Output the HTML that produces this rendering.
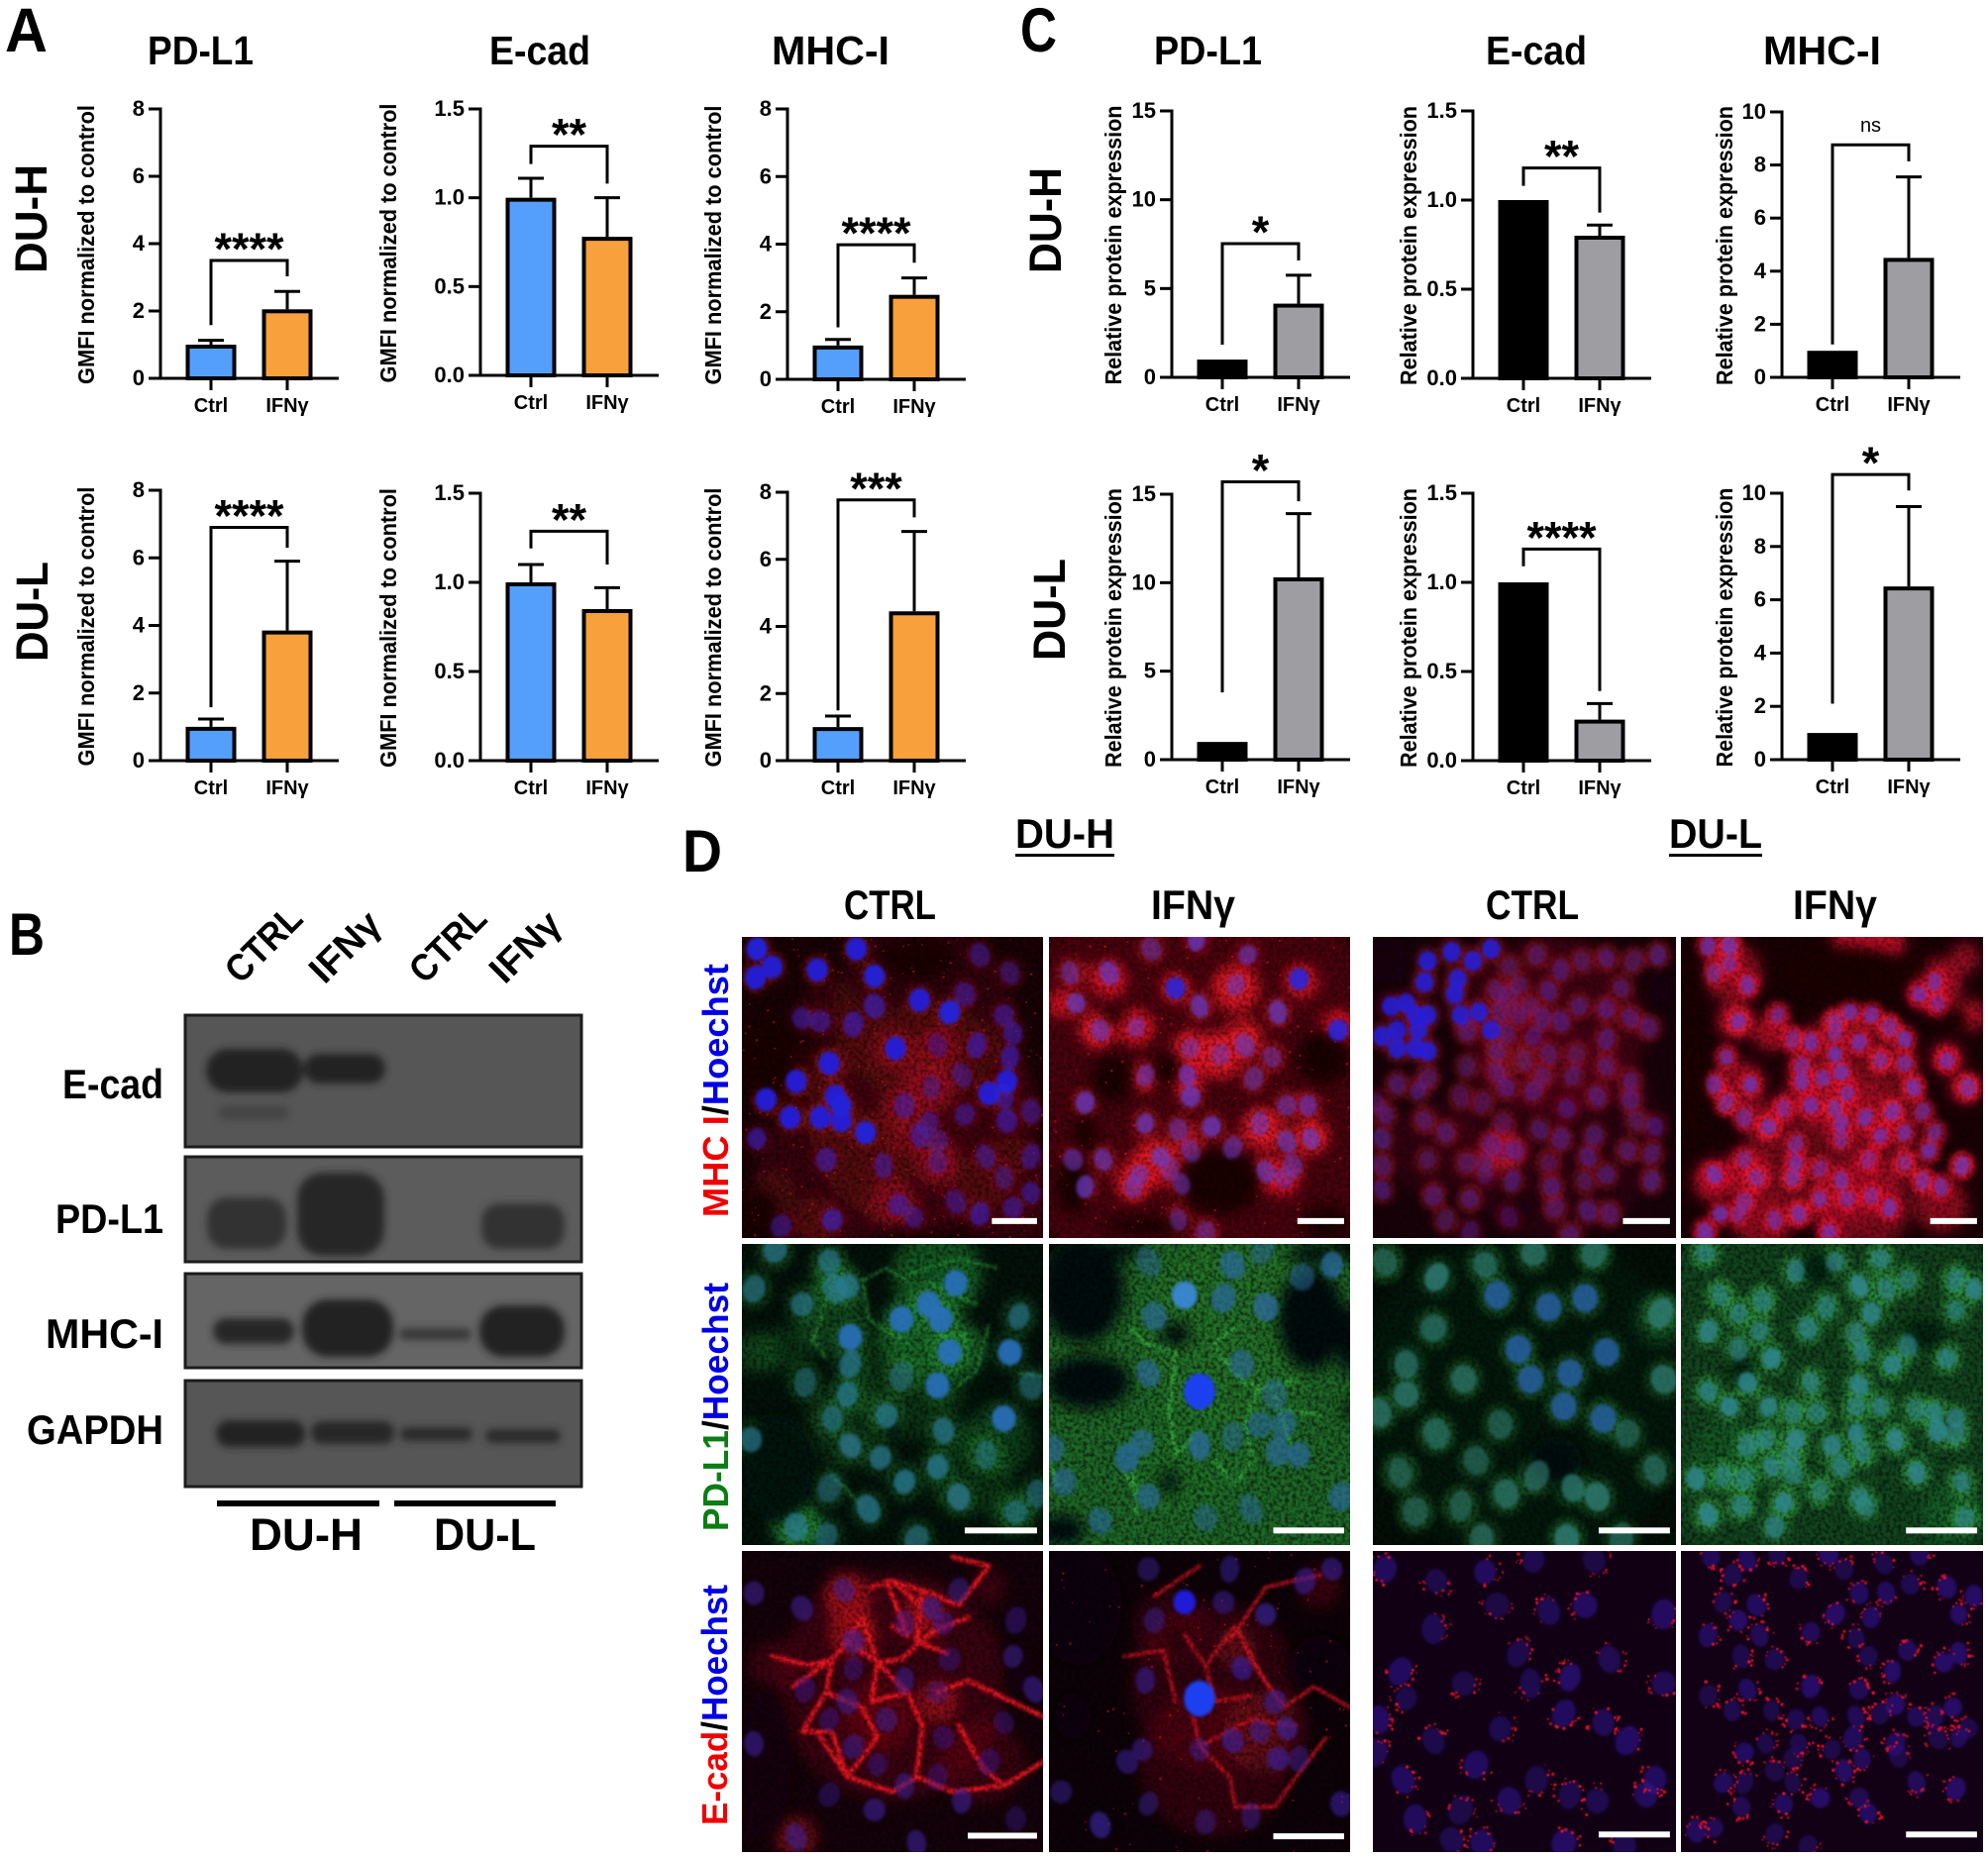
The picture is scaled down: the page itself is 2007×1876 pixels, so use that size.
<!DOCTYPE html>
<html lang="en">
<head>
<meta charset="utf-8">
<title>DU-H and DU-L: PD-L1, E-cad and MHC-I expression</title>
<style>
html,body{margin:0;padding:0;background:#fff;}
svg{display:block;}
text{font-family:"Liberation Sans",Arial,sans-serif;fill:#000;}
.b{font-weight:bold;}
</style>
</head>
<body>
<svg id="figure" xmlns="http://www.w3.org/2000/svg" width="2007" height="1876" viewBox="0 0 2007 1876">
<defs>
<filter id="blur07" x="-5%" y="-5%" width="110%" height="110%"><feGaussianBlur stdDeviation="0.6"/></filter>
<filter id="blur1" x="-20%" y="-20%" width="140%" height="140%"><feGaussianBlur stdDeviation="1.2"/></filter>
<filter id="blur2" x="-20%" y="-20%" width="140%" height="140%"><feGaussianBlur stdDeviation="1.7"/></filter>
<filter id="blur3" x="-30%" y="-30%" width="160%" height="160%"><feGaussianBlur stdDeviation="3.2"/></filter>
<filter id="blur6" x="-30%" y="-30%" width="160%" height="160%"><feGaussianBlur stdDeviation="7"/></filter>
<filter id="bandBlur" x="-30%" y="-60%" width="160%" height="220%"><feGaussianBlur stdDeviation="4"/></filter>
<filter id="grain" x="0" y="0" width="100%" height="100%"><feTurbulence type="fractalNoise" baseFrequency="0.26" numOctaves="2" seed="3"/><feColorMatrix type="matrix" values="0 0 0 0 0  0 0 0 0 0  0 0 0 0 0  2.6 0 0 0 -0.95"/></filter>
</defs>
<rect x="0" y="0" width="2007" height="1876" fill="#fff"/>

<text class="b" x="5" y="52" font-size="63" textLength="43" lengthAdjust="spacingAndGlyphs">A</text>
<text class="b" x="9" y="964" font-size="60" textLength="36" lengthAdjust="spacingAndGlyphs">B</text>
<text class="b" x="1030" y="52" font-size="63" textLength="37" lengthAdjust="spacingAndGlyphs">C</text>
<text class="b" x="689" y="880" font-size="60" textLength="40" lengthAdjust="spacingAndGlyphs">D</text>

<text class="b" transform="translate(47,276) rotate(-90)" font-size="45" textLength="110" lengthAdjust="spacingAndGlyphs">DU-H</text>
<text class="b" transform="translate(48,668) rotate(-90)" font-size="45" textLength="101" lengthAdjust="spacingAndGlyphs">DU-L</text>
<text class="b" transform="translate(1071,276) rotate(-90)" font-size="45" textLength="107" lengthAdjust="spacingAndGlyphs">DU-H</text>
<text class="b" transform="translate(1075,667) rotate(-90)" font-size="45" textLength="103" lengthAdjust="spacingAndGlyphs">DU-L</text>

<g id="charts"></g>

<g id="western-blot">
  <text class="b" font-size="38" text-anchor="middle" transform="translate(266,953) rotate(-45) translate(0,13)" textLength="92" lengthAdjust="spacingAndGlyphs">CTRL</text>
  <text class="b" font-size="38" text-anchor="middle" transform="translate(348,956) rotate(-45) translate(0,13)" textLength="84" lengthAdjust="spacingAndGlyphs">IFNγ</text>
  <text class="b" font-size="38" text-anchor="middle" transform="translate(452,953) rotate(-45) translate(0,13)" textLength="92" lengthAdjust="spacingAndGlyphs">CTRL</text>
  <text class="b" font-size="38" text-anchor="middle" transform="translate(530,956) rotate(-45) translate(0,13)" textLength="84" lengthAdjust="spacingAndGlyphs">IFNγ</text>

  <rect x="187" y="1025" width="400" height="133" fill="#565656" stroke="#1c1c1c" stroke-width="3"/>
  <rect x="187" y="1168" width="400" height="106" fill="#5c5c5c" stroke="#1c1c1c" stroke-width="3"/>
  <rect x="187" y="1286" width="400" height="95" fill="#656565" stroke="#1c1c1c" stroke-width="3"/>
  <rect x="187" y="1394" width="400" height="107" fill="#565656" stroke="#1c1c1c" stroke-width="3"/>
  <g filter="url(#bandBlur)" fill="#202020">
    <rect x="208" y="1059" width="98" height="44" rx="22"/>
    <rect x="307" y="1064" width="82" height="30" rx="15"/>
    <rect x="220" y="1116" width="72" height="15" rx="7" fill="#444"/>
    <rect x="209" y="1209" width="80" height="52" rx="20" fill="#333"/>
    <rect x="300" y="1184" width="88" height="84" rx="26" fill="#272727"/>
    <rect x="486" y="1215" width="84" height="46" rx="18" fill="#333"/>
    <rect x="215" y="1331" width="82" height="26" rx="13" fill="#282828"/>
    <rect x="305" y="1312" width="92" height="58" rx="26"/>
    <rect x="403" y="1341" width="73" height="12" rx="6" fill="#383838"/>
    <rect x="484" y="1318" width="86" height="52" rx="24"/>
    <rect x="218" y="1434" width="90" height="27" rx="13"/>
    <rect x="314" y="1435" width="84" height="23" rx="11" fill="#282828"/>
    <rect x="404" y="1441" width="73" height="14" rx="7" fill="#2c2c2c"/>
    <rect x="490" y="1443" width="76" height="14" rx="7" fill="#2c2c2c"/>
  </g>
  <text class="b" x="63" y="1109" font-size="42" textLength="102" lengthAdjust="spacingAndGlyphs">E-cad</text>
  <text class="b" x="56" y="1245" font-size="42" textLength="109" lengthAdjust="spacingAndGlyphs">PD-L1</text>
  <text class="b" x="46" y="1361" font-size="42" textLength="119" lengthAdjust="spacingAndGlyphs">MHC-I</text>
  <text class="b" x="27" y="1458" font-size="42" textLength="138" lengthAdjust="spacingAndGlyphs">GAPDH</text>
  <rect x="219" y="1515" width="164" height="6" fill="#000"/>
  <rect x="398" y="1515" width="163" height="6" fill="#000"/>
  <text class="b" x="252" y="1565" font-size="45" textLength="114" lengthAdjust="spacingAndGlyphs">DU-H</text>
  <text class="b" x="438" y="1565" font-size="45" textLength="103" lengthAdjust="spacingAndGlyphs">DU-L</text>
</g>

<g id="micrograph-labels">
  <text class="b" x="1025" y="856" font-size="42" textLength="100" lengthAdjust="spacingAndGlyphs">DU-H</text>
  <rect x="1025" y="862" width="100" height="3" fill="#000"/>
  <text class="b" x="1685" y="856" font-size="42" textLength="94" lengthAdjust="spacingAndGlyphs">DU-L</text>
  <rect x="1685" y="862" width="94" height="3" fill="#000"/>
  <text class="b" x="852" y="928" font-size="42" textLength="93" lengthAdjust="spacingAndGlyphs">CTRL</text>
  <text class="b" x="1162" y="928" font-size="42" textLength="85" lengthAdjust="spacingAndGlyphs">IFNγ</text>
  <text class="b" x="1500" y="928" font-size="42" textLength="94" lengthAdjust="spacingAndGlyphs">CTRL</text>
  <text class="b" x="1810" y="928" font-size="42" textLength="85" lengthAdjust="spacingAndGlyphs">IFNγ</text>
  <text class="b" transform="translate(735,1229) rotate(-90)" font-size="36" textLength="256" lengthAdjust="spacingAndGlyphs"><tspan style="fill:#f00000">MHC I</tspan><tspan style="fill:#000">/</tspan><tspan style="fill:#0000e6">Hoechst</tspan></text>
  <text class="b" transform="translate(735,1546) rotate(-90)" font-size="36" textLength="251" lengthAdjust="spacingAndGlyphs"><tspan style="fill:#0a7d14">PD-L1</tspan><tspan style="fill:#000">/</tspan><tspan style="fill:#0000e6">Hoechst</tspan></text>
  <text class="b" transform="translate(734,1843) rotate(-90)" font-size="36" textLength="243" lengthAdjust="spacingAndGlyphs"><tspan style="fill:#f00000">E-cad</tspan><tspan style="fill:#000">/</tspan><tspan style="fill:#0000e6">Hoechst</tspan></text>
</g>

<g id="micrographs"></g>
</svg>

<script>
/* ---------- chart data ---------- */
const categories = ['Ctrl', 'IFNγ'];
const chartTitles = ['PD-L1', 'E-cad', 'MHC-I', 'PD-L1', 'E-cad', 'MHC-I'];
const axisTitles = ['GMFI normalized to control', 'Relative protein expression'];
const tickLabelsA = [
  ['0', '2', '4', '6', '8'],
  ['0.0', '0.5', '1.0', '1.5'],
  ['0', '2', '4', '6', '8'],
  ['0', '2', '4', '6', '8'],
  ['0.0', '0.5', '1.0', '1.5'],
  ['0', '2', '4', '6', '8']
];
const tickLabelsC = [
  ['0', '5', '10', '15'],
  ['0.0', '0.5', '1.0', '1.5'],
  ['0', '2', '4', '6', '8', '10'],
  ['0', '5', '10', '15'],
  ['0.0', '0.5', '1.0', '1.5'],
  ['0', '2', '4', '6', '8', '10']
];
/* order: DU-H PD-L1, E-cad, MHC-I, DU-L PD-L1, E-cad, MHC-I */
const ctrlMeansA = [1, 1, 1, 1, 1, 1];
const ifnMeansA = [2.05, 0.78, 2.5, 3.85, 0.85, 4.45];
const ctrlErrTopsA = [1.13, 1.11, 1.18, 1.23, 1.1, 1.33];
const ifnErrTopsA = [2.58, 1.0, 3.0, 5.9, 0.97, 6.83];
const bracketTopsA = [3.5, 1.29, 3.98, 6.9, 1.287, 7.77];
const bracketLeftEndsA = [1.58, 1.19, 1.54, 1.58, 1.19, 1.5];
const bracketRightEndsA = [3.03, 1.08, 3.45, 6.3, 1.1, 7.25];
const significanceA = ['****', '**', '****', '****', '**', '***'];

const ctrlMeansC = [1, 1, 1, 1, 1, 1];
const ifnMeansC = [4.15, 0.8, 4.5, 10.3, 0.23, 6.5];
const ifnErrTopsC = [5.75, 0.86, 7.55, 13.9, 0.32, 9.5];
const bracketTopsC = [7.53, 1.18, 8.76, 15.7, 1.187, 10.7];
const bracketLeftEndsC = [1.84, 1.08, 1.24, 3.8, 1.09, 2.1];
const bracketRightEndsC = [6.58, 0.93, 8.14, 14.6, 0.39, 10.1];
const significanceC = ['*', '**', 'ns', '*', '****', '*'];

/* ---------- chart frames (plot rectangle of each chart) ---------- */
function frameOf(axisX, top, bottom, titleX) {
  return { axisX: axisX, top: top, bottom: bottom, titleX: titleX };
}
const framesA = [
  frameOf(162, 110, 382, 95), frameOf(485, 110, 379, 400), frameOf(795, 110, 383, 728),
  frameOf(162, 495, 768, 95), frameOf(485, 498, 768, 400), frameOf(795, 497, 768, 728)
];
const framesC = [
  frameOf(1183, 112, 381, 1132), frameOf(1487, 112, 382, 1430), frameOf(1799, 113, 381, 1749),
  frameOf(1183, 499, 767, 1132), frameOf(1487, 498, 768, 1430), frameOf(1799, 498, 767, 1749)
];
const titleSpansA = [[149, 107], [494, 102], [779, 119]];
const titleSpansC = [[1165, 109], [1500, 102], [1780, 119]];

const SVGNS = 'http://www.w3.org/2000/svg';
function svgEl(tag, attrs, parent) {
  const node = document.createElementNS(SVGNS, tag);
  for (const k in attrs) node.setAttribute(k, attrs[k]);
  if (parent) parent.appendChild(node);
  return node;
}
function lineIn(parent, x1, y1, x2, y2) {
  return svgEl('line', { x1: x1, y1: y1, x2: x2, y2: y2, stroke: '#000', 'stroke-width': 3 }, parent);
}

function drawChart(root, spec) {
  const f = spec.frame;
  const ticks = spec.ticks;
  const maxValue = parseFloat(ticks[ticks.length - 1]);
  const yScale = function (v) { return f.bottom - (v / maxValue) * (f.bottom - f.top); };
  const xScale = function (i) { return f.axisX + 51 + i * 77; };

  const g = svgEl('g', {}, root);
  
  

  const yAxis = lineIn(g, f.axisX, f.top - 1.5, f.axisX, f.bottom + 1.5);
  
  

  ticks.forEach(function (label) {
    const v = parseFloat(label);
    const tick = lineIn(g, f.axisX - 12, yScale(v), f.axisX, yScale(v));
    
    
    const tickText = svgEl('text', { x: f.axisX - 16, y: yScale(v) + 7, 'font-size': 22, 'font-weight': 'bold', 'text-anchor': 'end' }, g);
    tickText.textContent = label;
    
    
  });

  const yTitle = svgEl('text', {
    transform: 'translate(' + f.titleX + ',' + ((f.top + f.bottom) / 2 + 1) + ') rotate(-90)',
    'font-size': 23, 'font-weight': 'bold', 'text-anchor': 'middle',
    textLength: 282, lengthAdjust: 'spacingAndGlyphs'
  }, g);
  yTitle.textContent = spec.axisTitle;
  
  

  /* bars */
  const means = [spec.ctrlMean, spec.ifnMean];
  means.forEach(function (v, i) {
    const cx = xScale(i);
    const errTop = i === 0 ? spec.ctrlErr : spec.ifnErr;
    if (errTop !== null) {
      const stem = lineIn(g, cx, yScale(errTop), cx, yScale(v));
      
      
      const cap = lineIn(g, cx - 13, yScale(errTop), cx + 13, yScale(errTop));
      
      
    }
    const fill = i === 0 ? spec.ctrlColor : spec.ifnColor;
    const bar = svgEl('rect', {
      x: cx - 23.5, y: yScale(v) + 2, width: 47,
      height: Math.max(0, f.bottom - yScale(v) - 2),
      fill: fill, stroke: '#000', 'stroke-width': 4
    }, g);
    
    
  });

  const xAxis = lineIn(g, f.axisX - 1.5, f.bottom, f.axisX + 180, f.bottom);
  
  

  categories.forEach(function (cat, i) {
    const tick = lineIn(g, xScale(i), f.bottom, xScale(i), f.bottom + 12);
    
    
    const lab = svgEl('text', { x: xScale(i), y: f.bottom + 34, 'font-size': 20, 'font-weight': 'bold', 'text-anchor': 'middle' }, g);
    lab.textContent = cat;
    
    
  });

  /* significance bracket */
  const path = 'M' + xScale(0) + ' ' + yScale(spec.leftEnd) +
    'L' + xScale(0) + ' ' + yScale(spec.top) +
    'L' + xScale(1) + ' ' + yScale(spec.top) +
    'L' + xScale(1) + ' ' + yScale(spec.rightEnd);
  const bracket = svgEl('path', { d: path, fill: 'none', stroke: '#000', 'stroke-width': 3 }, g);
  
  

  const isNs = spec.sig === 'ns';
  const sigText = svgEl('text', {
    x: (xScale(0) + xScale(1)) / 2,
    y: yScale(spec.top) + (isNs ? -13 : 4),
    'font-size': isNs ? 20 : 45,
    'font-weight': isNs ? 'normal' : 'bold',
    'text-anchor': 'middle'
  }, g);
  sigText.textContent = spec.sig;
  
  
}

const chartsRoot = document.getElementById('charts');
[0, 1, 2].forEach(function (i) {
  const ta = svgEl('text', { x: titleSpansA[i][0], y: 65, 'font-size': 41, 'font-weight': 'bold', textLength: titleSpansA[i][1], lengthAdjust: 'spacingAndGlyphs' }, chartsRoot);
  ta.textContent = chartTitles[i];
  
  
  const tc = svgEl('text', { x: titleSpansC[i][0], y: 65, 'font-size': 41, 'font-weight': 'bold', textLength: titleSpansC[i][1], lengthAdjust: 'spacingAndGlyphs' }, chartsRoot);
  tc.textContent = chartTitles[i];
  
  
});
framesA.forEach(function (frame, i) {
  drawChart(chartsRoot, {
    id: 'a-' + (i < 3 ? 'du-h-' : 'du-l-') + chartTitles[i].toLowerCase(),
    frame: frame, ticks: tickLabelsA[i], axisTitle: axisTitles[0],
    ctrlMean: ctrlMeansA[i], ifnMean: ifnMeansA[i],
    ctrlErr: ctrlErrTopsA[i], ifnErr: ifnErrTopsA[i],
    top: bracketTopsA[i], leftEnd: bracketLeftEndsA[i], rightEnd: bracketRightEndsA[i],
    sig: significanceA[i], ctrlColor: '#559ffc', ifnColor: '#f8a03c'
  });
});
framesC.forEach(function (frame, i) {
  drawChart(chartsRoot, {
    id: 'c-' + (i < 3 ? 'du-h-' : 'du-l-') + chartTitles[i].toLowerCase(),
    frame: frame, ticks: tickLabelsC[i], axisTitle: axisTitles[1],
    ctrlMean: ctrlMeansC[i], ifnMean: ifnMeansC[i],
    ctrlErr: null, ifnErr: ifnErrTopsC[i],
    top: bracketTopsC[i], leftEnd: bracketLeftEndsC[i], rightEnd: bracketRightEndsC[i],
    sig: significanceC[i], ctrlColor: '#000', ifnColor: '#9e9ea2'
  });
});

/* ---------- micrographs (illustrative image content, not chart data) ---------- */
const columnsX = [[749, 304], [1059, 304], [1386, 306], [1697, 305]];
const rowsY = [[946, 304], [1256, 304], [1566, 304]];
const micrographs = [
 { id: 'mhc-i-du-h-ctrl', c: 0, r: 0, base: '#1a0206', blobColor: '#a8141f', nucColor: '#3a20b8', nucR: 3.5, bar: [83, 98, 94.2],
   halo: [5, 0.22], haloColor: '#b8141f', grain: 0.45,
   blobs: '60,25,30,.16 60,60,38,.26 30,80,25,.2 20,50,14,.14 90,85,18,.2 50,38,8,.5 65,37,8,.55 62,50,9,.7 52,57,7,.6 55,66,7,.55 65,75,8,.7 50,88,8,.6 30,42,6,.35 18,48,5,.3 10,85,8,.2 25,94,8,.3 30,24,10,.2',
   holes: '9,40,9,14 58,7,13,7 6,92,6,8 3,3,4,4',
   nuclei: '5,4 10,10 4.5,13.5 25,11 38,4 44,13 79,6 89,12 59,21 74,19 44,23 69,25 87,26 20,27 26,28 37,29 90,32 51,37 65,36 78,36 89,40 29,42 18,48 73,46 88,48 82,52 31,53 8,54 33,56 63,50 54,56 87,53 16,60 26,60 33,61 74,59 62,62 88,61 96,58 41,65 5,67 59,66 65,68 28,74 47,76 65,75 81,73 96,73 87,80 96,85 52,89 71,88 90,90 57,93 30,94 13,96 79,92',
   brightNuclei: '5,4 10,10 4.5,13.5 25,11 38,4 44,13 59,21 51,37 29,42 18,48 31,53 8,54 33,56 16,60 26,60 33,61 82,52 88,48 69,25 41,65', brightColor: '#2420dc',
   dim: 0.62, dust: 260, dustColor: '#c8202a' },
 { id: 'mhc-i-du-h-ifn', c: 1, r: 0, base: '#1d0206', blobColor: '#e81426', nucColor: '#6a3ac4', nucR: 3.3, bar: [82.5, 98, 94.2],
   halo: [5.2, 0.35], haloColor: '#e01526', grain: 0.4,
   blobs: '50,50,70,.22 20,15,6,.8 62,17,8,.9 4,22,5,.8 16,31,6,.95 29,30,6,.9 57,39,8,.95 65,33,6,.9 47,37,6,.9 46,47,5,.95 31,47,4,.9 71,64,7,.95 87,66,6,.9 35,75,8,.9 28,81,6,.9 72,79,6,.8 78,81,5,.85 96,30,6,.85 84,15,6,.7 42,17,5,.55 47,68,6,.45 12,12,4,.45',
   holes: '21,47,7,8 39,44,5,5 57,81,14,11 12,65,4,6 8,82,6,10 91,40,9,9 21,26,3,3 33,96,15,3 92,95,8,6',
   nuclei: '20,12 62,16 34,4 49,1 66,6 7,12 50,23 9,22 76,25 17,31 29,30 47,37 57,39 65,36 74,40 32,46 46,46 68,47 12,55 47,53 79,56 86,56 32,62 43,64 54,63 70,62 79,68 87,67 47,71 37,73 61,70 8,74 18,74 40,77 30,79 72,78 78,80 81,76 12,83 28,83 44,82 43,94 52,98',
   brightNuclei: '42,17 83,14 96,31', brightColor: '#2e24d8',
   dim: 0.7, dust: 160, dustColor: '#e0202c' },
 { id: 'mhc-i-du-l-ctrl', c: 2, r: 0, base: '#18020a', blobColor: '#a81028', nucColor: '#4a28b8', nucR: 3, bar: [82.5, 98, 94.2],
   halo: [4.6, 0.38], haloColor: '#c0142c', grain: 0.25,
   blobs: '60,30,30,.24 60,65,35,.12 43,71,7,1 20,70,15,.16 45,38,8,.3',
   holes: '5,8,7,7 95,18,4,6 50,90,3,3',
   nuclei: '45,10 54,6 62,11 69,8 77,7 86,8 94,6 48,16 58,18 41,18 82,17 68,23 77,24 45,20 52,23 42,25 48,26 56,27 62,28 85,27 31,31 44,32 53,33 77,34 91,30 41,38 58,39 67,39 31,43 50,41 77,43 41,45 56,46 66,46 85,48 8,49 18,47 15,51 44,50 29,53 36,55 53,51 74,53 85,54 1,55 64,57 4,59 17,61 43,62 87,61 24,65 55,64 73,66 93,63 3,67 62,67 84,71 92,72 39,69 43,71 47,71 37,75 71,73 18,74 31,75 3,76 58,75 77,79 37,79 46,81 70,81 59,83 92,81 3,84 20,86 32,87 60,90 45,93 24,94 71,91 78,92 32,98 65,99',
   dim: 0.42, brightOp: 0.82,
   brightNuclei: '18,8 26,5 33,8 39,4 28,14 17,15 27,19 6,23 11,22 14,26 18,26 29,26 35,25 8,31 15,31 3,33 8,37 14,37 18,38 39,31' },
 { id: 'mhc-i-du-l-ifn', c: 3, r: 0, base: '#1a0005', blobColor: '#e81230', nucColor: '#6a34b8', nucR: 2.6, bar: [82.5, 98, 94.2],
   halo: [4.3, 0.8], haloColor: '#f01432', grain: 0.35,
   blobs: '17,12,10,.55 58,2,8,.85 69,3,6,.8 84,16,9,.7 94,7,5,.6 96,26,5,.8 88,40,5,.85 94,50,5,.8 57,46,22,.42 51,70,26,.38 20,49,8,.6 18,28,6,.8 30,32,6,.7 11,81,7,.75 22,78,8,.7 27,62,7,.55 60,89,16,.45 86,89,9,.55 27,94,10,.55',
   holes: '54,12,22,9 4,49,5,20 4,15,3,10 78,8,4,6 91,28,4,4',
   nuclei: '11,12 22,16 9,3 16,3 16,9 84,15 79,19 85,22 19,28 32,26 37,34 51,28 56,25 63,26 69,30 74,34 51,32 59,35 15,40 43,35 40,43 47,47 53,45 51,39 66,41 74,42 88,41 11,49 23,49 40,48 55,52 43,56 77,50 95,50 15,55 34,57 51,57 61,60 70,58 80,58 21,60 29,63 53,62 38,69 66,66 74,65 53,67 84,65 82,71 62,74 74,75 21,74 38,75 46,77 93,76 11,79 37,80 53,81 25,80 80,81 69,90 63,86 55,87 46,87 86,83 21,88 31,94 39,92 13,92 19,92 8,98 49,98',
   dim: 0.72 },

 { id: 'pd-l1-du-h-ctrl', c: 0, r: 1, base: '#03120a', blobColor: '#259a38', nucColor: '#2a7a92', nucR: 4, bar: [74, 98, 95],
   halo: [6.5, 0.24], haloColor: '#2a9a3a', grain: 0.5,
   blobs: '65,10,15,.5 60,30,14,.5 72,35,9,.6 30,25,12,.35 15,35,8,.22 85,65,12,.28 55,45,20,.24 18,93,8,.85 90,89,7,.4 75,75,15,.24 35,60,15,.18 5,36,7,.35 30,12,7,.45',
   holes: '12,75,12,18 50,62,3,4',
   nuclei: '11,2 29,6 35,14 31,15 4,15 20,20 92,24 36,40 21,46 53,44 96,47 35,50 30,58 48,57 67,62 3,65 36,67 81,70 46,71 65,74 54,79 29,81 72,84 42,88 91,89 98,83 18,94 58,98 28,97',
   brightNuclei: '71,13 62,20 66,25 53,25 36,31 69,36 89,36 65,47 87,58', brightColor: '#2a70bc',
   dim: 0.72, lineColor: '#35b845', lineWidth: 2.5, lineOp: 0.6,
   lines: ['40,12 42,25 55,33', '55,10 72,5 85,8', '60,12 78,20', '82,27 78,42 72,47', '23,32 27,24', '30,77 39,86', '65,30 75,30 73,38', '92,43 100,44', '40,12 48,8 55,12', '28,18 24,32 28,38'] },
 { id: 'pd-l1-du-h-ifn', c: 1, r: 1, base: '#020e08', blobColor: '#2a8a30', nucColor: '#2a6a9c', nucR: 4.2, bar: [74.5, 98, 95],
   grain: 0.55,
   blobs: '50,55,70,.72 60,30,30,.25 45,70,20,.18',
   holes: '11,15,14,18 13,46,14,9 87,25,11,17 42,30,5,4 100,32,4,12 4,95,8,5 88,3,8,3 40,79,3,4 20,2,12,3 100,55,2,4',
   nuclei: '33,6 61,7 71,2 84,11 94,7 58,18 35,24 72,21 64,40 33,43 75,50 70,60 78,60 61,64 50,67 31,66 26,71 76,69 83,70 1,68 5,79 33,84 97,84 67,88 52,91 17,92',
   dim: 0.7, lineColor: '#45d04c', lineWidth: 3, lineOp: 0.65,
   lines: ['27,28 32,33 42,36 40,55 42,70', '55,33 62,28', '55,35 65,46 72,48 82,45', '70,47 65,60 68,72 63,78', '79,55 90,57', '28,76 29,90', '25,76 29,82', '55,72 62,80', '42,70 50,62', '75,50 80,66', '0,72 3,80'],
   brightNuclei: '45,17', brightColor: '#3a8ae0', bigNuclei: '50,49' },
 { id: 'pd-l1-du-l-ctrl', c: 2, r: 1, base: '#030f07', blobColor: '#1f7a35', nucColor: '#2f7c74', nucR: 4.3, bar: [74.5, 98, 95],
   halo: [6.5, 0.38], haloColor: '#288a38', grain: 0.45,
   blobs: '95,25,9,.4 50,50,55,.08',
   holes: '60,72,9,8',
   nuclei: '4,6 21,11 37,7 53,3 73,3 20,28 95,23 11,40 30,45 96,45 11,50 2,56 84,63 42,60 21,63 34,72 9,76 54,77 93,75 44,83 66,81 29,87 74,84 14,89 36,98 64,98 82,98',
   dim: 0.75, brightOp: 0.8,
   brightNuclei: '41,17 58,21 70,18 48,35 77,36 52,45 65,43 63,54 76,58', brightColor: '#2860a8' },
 { id: 'pd-l1-du-l-ifn', c: 3, r: 1, base: '#06200f', blobColor: '#25903a', nucColor: '#30868e', nucR: 3.2, bar: [74.5, 98, 95],
   halo: [5.2, 0.55], haloColor: '#35a845', grain: 0.5,
   blobs: '50,50,70,.32 15,70,12,.25 90,90,10,.35',
   holes: '45,8,6,5 20,42,4,6 80,30,7,5 90,60,3,3',
   nuclei: '8,3 38,9 51,6 66,5 75,12 91,12 13,17 59,14 68,15 97,15 19,23 27,19 48,21 63,23 42,28 91,22 26,29 58,30 9,29 19,35 30,38 60,36 75,34 88,38 70,40 22,46 43,46 59,47 9,49 29,54 16,54 37,56 45,56 58,54 66,54 78,55 84,56 91,58 58,63 71,65 28,65 38,65 50,67 85,62 91,63 60,69 36,71 22,67 30,74 14,77 21,78 37,76 53,74 78,76 5,78 46,82 59,84 34,86 61,87 20,87 93,79 9,90 31,94 94,91',
   dim: 0.8, lineColor: '#40b84c', lineWidth: 1.6, lineOp: 0.5,
   lines: ['30,60 40,55 55,58', '60,60 80,70 95,65', '25,75 40,70 45,85', '60,12 70,25', '90,5 97,22', '35,65 50,75 65,72', '15,50 30,48'] },

 { id: 'e-cad-du-h-ctrl', c: 0, r: 2, base: '#15020a', blobColor: '#b50e1c', nucColor: '#3a1c90', nucR: 3.7, bar: [75, 98, 94.4],
   grain: 0.45,
   blobs: '50,45,38,.24 35,15,8,.8 37,27,8,.8 60,22,8,.7 65,50,7,.7 45,55,12,.3 80,70,14,.24 18,95,7,.55 10,38,8,.25 82,12,6,.25',
   holes: '8,70,8,24 3,92,3,5 92,40,4,10',
   nuclei: '20,19 34,13 72,13 63,19 67,24 54,24 37,30 91,23 69,36 90,35 37,39 21,46 54,43 65,47 97,46 35,50 87,57 48,56 29,56 67,62 4,64 37,65 82,70 45,71 65,75 54,78 73,83 29,81 44,86 91,89 18,95 58,97 4,14',
   dim: 0.58, lineColor: '#f01424', lineWidth: 5, lineOp: 0.95,
   lines: ['30,36 35,30 45,37 53,36 63,27 75,22', '35,30 40,22 45,37 43,50', '25,60 35,75 45,62 40,52 28,47', '65,47 75,43 100,55', '45,37 55,47 60,58 58,75 70,80 87,78 100,70', '72,58 80,72 87,78', '10,35 22,38 30,36', '17,45 30,36', '29,60 20,60 28,47', '50,10 60,13 72,18 82,5 70,2', '58,17 50,10', '43,12 50,10', '60,13 58,30 68,34', '30,60 35,75 50,80 58,75', '28,47 30,36', '43,50 55,47', '50,25 55,28 48,10'] },
 { id: 'e-cad-du-h-ifn', c: 1, r: 2, base: '#0e0208', blobColor: '#a00e1e', nucColor: '#3a22a0', nucR: 3.7, bar: [74.5, 98, 94.6],
   grain: 0.45,
   blobs: '55,45,28,.24 55,70,25,.26 40,25,12,.24 72,60,14,.32 90,12,7,.3 62,32,7,.4',
   holes: '10,18,14,20 90,38,10,10 8,55,6,8 43,30,2,3',
   nuclei: '33,6 60,6 94,6 58,17 72,21 35,23 85,10 32,43 64,39 75,50 70,60 79,59 61,63 83,69 76,69 50,66 31,66 26,70 33,84 52,90 67,88 97,84 4,80 17,91',
   dim: 0.62, lineColor: '#d81424', lineWidth: 3.5, lineOp: 0.9,
   lines: ['45,28 52,38 62,25 70,40 78,52 88,45 100,52', '52,38 55,50 67,48', '60,30 72,12 90,8', '48,55 50,65 60,75 62,85 75,85 82,75 92,62', '25,35 38,33 42,50', '35,15 50,5', '62,25 68,38 78,52', '50,65 67,56 82,58'],
   brightNuclei: '45,17', brightColor: '#1c20f0', bigNuclei: '50,49', dust: 110, dustColor: '#d81a28' },
 { id: 'e-cad-du-l-ctrl', c: 2, r: 2, base: '#0c0010', blobColor: '#30061a', nucColor: '#2f1690', nucR: 4.1, bar: [74.5, 98, 94],
   blobs: '50,50,70,.18', holes: '',
   nuclei: '4,6 21,10 37,7 53,3 73,3 41,18 58,20 70,18 20,26 96,21 48,34 78,36 9,40 30,44 52,44 65,42 96,44 11,49 63,54 76,57 84,63 42,59 20,63 2,56 34,71 10,76 54,76 93,76 45,83 65,81 74,83 14,89 29,86 26,96 36,97 63,97 1,67 83,98 90,81',
   dim: 0.6, speckle: 11 },
 { id: 'e-cad-du-l-ifn', c: 3, r: 2, base: '#0d0010', blobColor: '#34061c', nucColor: '#2f1690', nucR: 3.3, bar: [74.5, 98, 94],
   blobs: '50,50,70,.18', holes: '',
   nuclei: '10,2 22,3 32,1 49,1 54,6 67,4 79,1 17,8 39,9 76,11 88,12 59,14 68,14 97,15 14,17 25,18 19,23 51,21 63,22 92,21 43,27 26,28 9,28 58,29 75,33 20,35 31,36 62,35 87,37 92,34 70,40 43,45 22,46 59,46 9,48 71,51 30,53 17,53 58,55 66,54 38,56 46,55 78,55 84,55 90,52 95,59 57,62 85,62 92,62 71,64 28,64 39,64 21,67 50,66 72,68 37,69 60,69 54,73 31,73 78,77 37,77 21,77 14,77 91,79 46,82 59,82 34,84 20,85 62,87 31,94 42,98 11,92 5,93',
   dim: 0.6, speckle: 10 }
];

function parseList(str) {
  if (!str) return [];
  return str.trim().split(/\s+/).map(function (p) { return p.split(',').map(Number); });
}
let noiseState = 12345;
function noise() {
  noiseState = (noiseState * 1103515245 + 12345) & 0x7fffffff;
  return noiseState / 0x7fffffff;
}

const microRoot = document.getElementById('micrographs');
const svgDefs = document.querySelector('#figure defs');

micrographs.forEach(function (m, idx) {
  const px = columnsX[m.c][0], py = rowsY[m.r][0], w = columnsX[m.c][1], h = rowsY[m.r][1];
  const sx = function (v) { return v / 100 * w; };
  const sy = function (v) { return v / 100 * h; };

  const clip = svgEl('clipPath', { id: 'clip' + idx }, svgDefs);
  svgEl('rect', { x: 0, y: 0, width: w, height: h }, clip);

  const g = svgEl('g', { transform: 'translate(' + px + ',' + py + ')', 'clip-path': 'url(#clip' + idx + ')' }, microRoot);
  
  

  const baseRect = svgEl('rect', { x: 0, y: 0, width: w, height: h, fill: m.base }, g);
  
  

  /* soft cytoplasm layer */
  const soft = svgEl('g', { filter: 'url(#blur6)' }, g);
  
  
  parseList(m.blobs).forEach(function (b) {
    svgEl('ellipse', { cx: sx(b[0]), cy: sy(b[1]), rx: sx(b[2]), ry: sy(b[2]), fill: m.blobColor, opacity: b[3] }, soft);
  });
  const nucList = parseList(m.nuclei);
  const brightList = parseList(m.brightNuclei);
  const bigList = parseList(m.bigNuclei);
  if (m.halo) {
    const haloLayer = svgEl('g', { filter: 'url(#blur3)' }, g);
    
    
    nucList.concat(brightList).forEach(function (n) {
      svgEl('ellipse', { cx: sx(n[0]), cy: sy(n[1]), rx: sx(m.halo[0]), ry: sy(m.halo[0] * 1.1), fill: m.haloColor, opacity: m.halo[1] * (0.65 + noise() * 0.5) }, haloLayer);
    });
  }
  const holeList = parseList(m.holes);
  if (holeList.length) {
    const holeLayer = svgEl('g', { filter: 'url(#blur6)' }, g);
    
    
    holeList.forEach(function (b) {
      svgEl('ellipse', { cx: sx(b[0]), cy: sy(b[1]), rx: sx(b[2]), ry: sy(b[3]), fill: m.base }, holeLayer);
    });
  }

  /* membrane lines */
  if (m.lines) {
    const lg = svgEl('g', { filter: 'url(#blur2)', fill: 'none', stroke: m.lineColor, 'stroke-width': m.lineWidth, 'stroke-linejoin': 'round', 'stroke-linecap': 'round', opacity: m.lineOp }, g);
    
    
    m.lines.forEach(function (s) {
      const pts = parseList(s).map(function (p) { return sx(p[0]) + ',' + sy(p[1]); }).join(' ');
      svgEl('polyline', { points: pts }, lg);
    });
  }

  /* granular texture */
  if (m.grain) {
    const grainRect = svgEl('rect', { x: 0, y: 0, width: w, height: h, fill: '#000', filter: 'url(#grain)', opacity: m.grain }, g);
    
    
  }

  /* fine dust */
  if (m.dust) {
    const dg = svgEl('g', { fill: m.dustColor }, g);
    
    
    for (let i = 0; i < m.dust; i++) {
      svgEl('circle', { cx: noise() * w, cy: noise() * h, r: 0.7 + noise() * 0.7, opacity: 0.45 }, dg);
    }
  }

  /* nuclei */
  const ng = svgEl('g', { filter: 'url(#blur2)' }, g);
  
  
  nucList.forEach(function (n) {
    const tilt = (noise() - 0.5) * 50;
    const cx = sx(n[0]), cy = sy(n[1]);
    const nuc = svgEl('ellipse', {
      cx: cx, cy: cy, rx: sx(m.nucR) * (0.85 + noise() * 0.15), ry: sy(m.nucR) * (1 + noise() * 0.25),
      fill: m.nucColor, opacity: m.dim * (0.65 + noise() * 0.45),
      transform: 'rotate(' + tilt + ' ' + cx + ' ' + cy + ')'
    }, ng);
    
    
  });
  brightList.forEach(function (n) {
    const nuc = svgEl('ellipse', { cx: sx(n[0]), cy: sy(n[1]), rx: sx(m.nucR), ry: sy(m.nucR) * 1.1, fill: m.brightColor || '#2020e8', opacity: m.brightOp || 0.9 }, ng);
    
    
  });
  bigList.forEach(function (n) {
    const nuc = svgEl('ellipse', { cx: sx(n[0]), cy: sy(n[1]), rx: sx(5.2), ry: sy(6), fill: '#1c40f0' }, ng);
    
    
  });

  /* perinuclear red puncta */
  if (m.speckle) {
    const sg = svgEl('g', { fill: '#e8102a', filter: 'url(#blur07)' }, g);
    
    
    nucList.forEach(function (n) {
      const start = noise() * 6.28;
      for (let i = 0; i < m.speckle; i++) {
        const a = start + noise() * 3.6;
        const rr = sx(m.nucR) * (0.9 + noise() * 0.55);
        svgEl('circle', { cx: sx(n[0]) + Math.cos(a) * rr, cy: sy(n[1]) + Math.sin(a) * rr, r: 0.8 + noise() * 1, opacity: 0.5 + noise() * 0.5 }, sg);
      }
    });
  }

  const scale = svgEl('rect', { x: sx(m.bar[0]), y: sy(m.bar[2]) - 2.5, width: sx(m.bar[1] - m.bar[0]), height: 6, fill: '#fff' }, g);
  
  
});
</script>
</body>
</html>
